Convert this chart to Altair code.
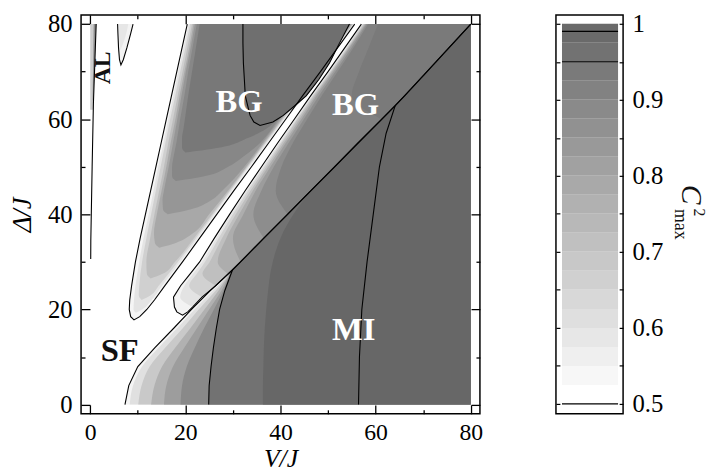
import altair as alt
import pandas as pd

# ---------------- values ----------------
DOMAIN = [-1.93, 81.93]
MAJOR_TICKS = [0, 20, 40, 60, 80]
ALL_TICKS = [0, 10, 20, 30, 40, 50, 60, 70, 80]

# --- Mott-insulator side: left edges of nested contour bands (each band reaches V/J = 80)
MI_Y  = [0, 4, 8, 12, 16, 20, 24, 28.3, 35, 45, 55, 62.8, 70, 80]
MI_L  = [7.3, 8.1, 10.0, 13.6, 17.5, 21.3, 25.3, 29.9, 36.5, 46.4, 56.3, 64.1, 70.8, 80]
MI_C1 = [8.3, 9.0, 10.9, 14.4, 18.2, 21.9, 25.8, 29.9, 36.5, 46.4, 56.3, 64.1, 70.8, 80]
MI_C2 = [10.1, 10.8, 12.5, 15.8, 19.4, 22.8, 26.4, 29.9, 36.5, 46.4, 56.3, 64.1, 70.8, 80]
MI_C3 = [12.8, 13.5, 15.1, 17.9, 21.0, 24.0, 27.0, 29.9, 36.5, 46.4, 56.3, 64.1, 70.8, 80]
MI_C4 = [15.5, 16.0, 17.4, 19.8, 22.4, 25.0, 27.6, 29.9, 36.5, 46.4, 56.3, 64.1, 70.8, 80]
MI_C5 = [19.0, 19.3, 20.3, 22.0, 23.9, 26.0, 28.0, 29.9, 36.5, 46.4, 56.3, 64.1, 70.8, 80]
MI_A  = [24.9, 25.0, 25.4, 25.9, 26.5, 27.2, 28.3, 29.9, 36.5, 46.4, 56.3, 64.1, 70.8, 80]
MI_C7 = [36.3, 36.3, 36.4, 36.5, 36.7, 37.0, 37.4, 38.0, 40.0, 46.4, 56.3, 64.1, 70.8, 80]
MI_RIGHT = 80
MI_FILLS = ["#f4f4f4", "#e0e0e0", "#c9c9c9", "#b1b1b1", "#9d9d9d", "#898989", "#727272", "#676767"]

# --- second Bose-glass lobe (between the white stripe and the MI boundary)
BG2_Y = [18.8, 19.5, 20.5, 22.6, 25, 27.5, 30, 35, 40, 45, 50, 55, 60, 65, 70, 75, 80]
BG2_L = [19.4, 18.2, 17.7, 17.5, 19.0, 21.0, 23.0, 26.1, 29.3, 32.6, 36.0, 39.4, 42.9, 46.4, 50.0, 53.5, 57.0]
BG2_R = [19.4, 20.5, 21.5, 23.5, 26.4, 29.0, 31.6, 36.5, 41.5, 46.4, 51.4, 56.3, 61.3, 66.2, 70.8, 75.4, 80.0]
BG2_BANDS = [
    ("#e3e3e3", [20.5, 22.6, 25, 27.5, 30, 35, 40, 45, 50, 55, 60, 65, 70, 75, 80],
     [21.5, 18.9, 19.8, 21.6, 23.5, 26.5, 29.6, 32.9, 36.3, 39.7, 43.1, 46.6, 50.2, 53.7, 57.15]),
    ("#d1d1d1", [22.6, 25, 27.5, 30, 35, 40, 45, 50, 55, 60, 65, 70, 75, 80],
     [23.5, 20.8, 22.4, 24.1, 27.0, 30.0, 33.2, 36.6, 40.0, 43.4, 46.8, 50.4, 53.9, 57.3]),
    ("#bfbfbf", [25, 27.5, 30, 35, 40, 45, 50, 55, 60, 65, 70, 75, 80],
     [26.4, 23.6, 25.1, 27.7, 30.6, 33.7, 37.0, 40.3, 43.6, 47.0, 50.6, 54.1, 57.5]),
    ("#adadad", [27.5, 30, 35, 40, 45, 50, 55, 60, 65, 70, 75, 80],
     [29.0, 26.8, 28.6, 31.3, 34.2, 37.4, 40.7, 44.0, 47.3, 50.8, 54.3, 57.7]),
    ("#9c9c9c", [30, 35, 40, 45, 50, 55, 60, 65, 70, 75, 80],
     [31.6, 30.0, 32.2, 34.8, 37.9, 41.1, 44.4, 47.6, 51.1, 54.5, 57.9]),
    ("#8d8d8d", [35, 40, 45, 50, 55, 60, 65, 70, 75, 80],
     [36.5, 34.3, 36.0, 38.6, 41.7, 44.9, 48.1, 51.5, 54.9, 58.1]),
    ("#818181", [40, 45, 50, 55, 60, 65, 70, 75, 80],
     [41.5, 39.0, 40.2, 42.6, 45.6, 48.7, 52.0, 55.3, 58.4]),
    ("#7a7a7a", [60, 65, 70, 75, 80],
     [61.3, 55.0, 56.5, 58.5, 60.5]),
]
BG2_OUTER_FILL = "#f3f3f3"

# --- first Bose-glass lobe
BG1_Y = [17.8, 18.5, 20, 22, 25, 30, 35, 40, 45, 50, 55, 60, 65, 70, 75, 80]
BG1_L = [9.2, 8.5, 8.2, 8.3, 8.7, 9.5, 10.5, 11.6, 12.7, 13.8, 14.9, 16.0, 17.1, 18.2, 19.3, 20.4]
BG1_R = [9.2, 10.4, 11.9, 13.5, 15.7, 19.4, 23.0, 26.6, 30.2, 33.9, 37.5, 41.1, 44.7, 48.4, 52.0, 55.6]
BG1_OUTER_FILL = "#f5f5f5"
BG1_BANDS = [
    ("#e4e4e4", [19.3, 20, 22, 25, 30, 35, 40, 45, 50, 55, 60, 65, 70, 75, 80],
     [9.6, 9.1, 9.2, 9.5, 10.3, 11.2, 12.3, 13.3, 14.3, 15.4, 16.4, 17.5, 18.5, 19.6, 20.7],
     [9.6, 10.9, 12.9, 15.1, 18.9, 22.6, 26.2, 29.8, 33.5, 37.2, 40.8, 44.4, 48.1, 51.8, 55.4]),
    ("#d0d0d0", [22, 23, 25, 30, 35, 40, 45, 50, 55, 60, 65, 70, 75, 80],
     [10.8, 10.2, 10.3, 10.9, 11.8, 12.8, 13.8, 14.8, 15.8, 16.8, 17.9, 18.9, 20.0, 21.0],
     [10.8, 12.7, 14.4, 18.4, 22.2, 25.9, 29.5, 33.2, 36.9, 40.6, 44.3, 47.9, 51.6, 55.3]),
    ("#bdbdbd", [26.5, 27.5, 30, 35, 40, 45, 50, 55, 60, 65, 70, 75, 80],
     [12.7, 11.9, 11.8, 12.6, 13.5, 14.5, 15.5, 16.4, 17.4, 18.4, 19.4, 20.4, 21.4],
     [12.7, 15.2, 17.8, 21.8, 25.6, 29.3, 33.0, 36.7, 40.4, 44.1, 47.8, 51.5, 55.2]),
    ("#a8a8a8", [33, 34, 36, 40, 45, 50, 55, 60, 65, 70, 75, 80],
     [14.5, 13.6, 13.4, 14.0, 15.0, 16.0, 16.9, 17.9, 18.8, 19.8, 20.8, 21.7],
     [14.5, 18.0, 21.6, 25.0, 29.0, 32.8, 36.5, 40.2, 43.9, 47.6, 51.3, 55.0]),
    ("#969696", [40, 41, 43, 45, 50, 55, 60, 65, 70, 75, 80],
     [16.3, 15.3, 15.2, 15.5, 16.5, 17.4, 18.3, 19.2, 20.1, 21.1, 22.0],
     [16.3, 21.0, 25.5, 27.8, 32.4, 36.2, 39.9, 43.6, 47.4, 51.1, 54.9]),
    ("#878787", [47, 48, 50, 52, 55, 60, 65, 70, 75, 80],
     [18.0, 17.2, 17.2, 17.5, 18.1, 18.9, 19.8, 20.6, 21.5, 22.4],
     [18.0, 24.0, 29.0, 32.0, 35.7, 39.6, 43.3, 47.1, 50.9, 54.7]),
    ("#787878", [53, 54, 56, 58, 60, 65, 70, 75, 80],
     [20.0, 19.3, 19.3, 19.6, 19.9, 20.6, 21.4, 22.2, 23.0],
     [20.0, 27.0, 33.0, 37.0, 39.2, 43.0, 46.8, 50.6, 54.5]),
]
# inner closed contour of the first lobe
C_Y = [58.7, 59.4, 60.8, 64.9, 68.4, 71.8, 76, 80]
C_L = [35.7, 34.4, 33.6, 32.6, 32.4, 32.2, 32.1, 32.1]
C_R = [35.7, 38.4, 40.6, 45.4, 48.1, 50.3, 52.4, 54.5]
C_FILL = "#6f6f6f"

# --- thin Anderson-localised sliver at V ~ 0 and the small light lobe at the top
AL_Y = [30.6, 34.4, 50, 63.5, 70, 75, 80]
AL_X = [0.1, 0.12, 0.4, 0.67, 0.9, 1.07, 1.25]
AL_BAND = ("#cdcdcd", [62, 65, 70, 75, 80], [0.0, 0.0, 0.0, 0.0, 0.0], [0.63, 0.72, 0.9, 1.07, 1.25])
AL_CORE = ("#8e8e8e", [64, 70, 75, 80], [0.5, 0.58, 0.66, 0.72], [0.64, 0.88, 1.05, 1.22])
LOBE_Y = [71.4, 72.5, 75, 78, 80]
LOBE_L = [6.45, 6.15, 5.95, 5.82, 5.75]
LOBE_R = [6.45, 6.95, 7.7, 8.5, 9.0]
LOBE_FILL = "#f3f3f3"
LOBE_CORE = ("#e6e6e6", [74.5, 77, 80], [6.35, 6.1, 6.0], [6.35, 7.3, 8.0])

# --- further contour lines in the MI region
B_Y = [0, 10, 20, 30, 40, 50, 57, 62.8]
B_X = [56.4, 56.6, 57.1, 58.2, 59.5, 60.8, 62.2, 64.1]

# --- region labels
LABELS = ["AL", "BG", "BG", "SF", "MI"]
LABEL_X = [2.8, 31.3, 55.8, 6.2, 55.4]
LABEL_Y = [70.8, 63.5, 63.0, 11.2, 15.7]
LABEL_COLOR = ["#111111", "white", "white", "#111111", "white"]
LABEL_ANGLE = [270, 0, 0, 0, 0]
LABEL_SIZE = [24, 33, 33, 33, 33]

# --- colour bar
CB_LOW = [0.5, 0.525, 0.55, 0.575, 0.6, 0.625, 0.65, 0.675, 0.7, 0.725,
          0.75, 0.775, 0.8, 0.825, 0.85, 0.875, 0.9, 0.925, 0.95, 0.975]
CB_HIGH = [0.525, 0.55, 0.575, 0.6, 0.625, 0.65, 0.675, 0.7, 0.725, 0.75,
           0.775, 0.8, 0.825, 0.85, 0.875, 0.9, 0.925, 0.95, 0.975, 1.0]
CB_FILL = ["#ffffff", "#f7f7f7", "#efefef", "#e7e7e7", "#dfdfdf", "#d8d8d8", "#d0d0d0",
           "#c8c8c8", "#c0c0c0", "#b8b8b8", "#b1b1b1", "#a9a9a9", "#a1a1a1", "#999999",
           "#919191", "#8a8a8a", "#828282", "#7a7a7a", "#727272", "#6a6a6a"]
CB_LINES = [0.5, 0.95, 0.99]
CB_LABEL_TICKS = [0.5, 0.6, 0.7, 0.8, 0.9, 1.0]
CB_ALL_TICKS = [0.5, 0.55, 0.6, 0.65, 0.7, 0.75, 0.8, 0.85, 0.9, 0.95, 1.0]
CB_DOMAIN = [0.487, 1.0117]
CB_BAR_LEFT = 0.09
CB_BAR_RIGHT = 0.925

# ---------------- chart construction ----------------
W = 404
H = 404
CBW = 68
FONT = "Liberation Serif"
XS = alt.Scale(domain=DOMAIN, nice=False, zero=False)
YS = alt.Scale(domain=DOMAIN, nice=False, zero=False)


def band(ys, xl, xr, fill):
    df = pd.DataFrame({"y": ys, "x": xl, "x2": xr})
    return alt.Chart(df).mark_area(orient="horizontal", color=fill, interpolate="monotone").encode(
        y=alt.Y("y:Q", scale=YS, axis=None),
        x=alt.X("x:Q", scale=XS, axis=None),
        x2="x2:Q",
    )


layers = []
for edge, fill in zip([MI_L, MI_C1, MI_C2, MI_C3, MI_C4, MI_C5, MI_A, MI_C7], MI_FILLS):
    layers.append(band(MI_Y, edge, [MI_RIGHT] * len(MI_Y), fill))

layers.append(band(BG2_Y, BG2_L, BG2_R, BG2_OUTER_FILL))
for fill, ys, xl in BG2_BANDS:
    xr = [BG2_R[BG2_Y.index(y)] for y in ys]
    layers.append(band(ys, xl, xr, fill))

layers.append(band(BG1_Y, BG1_L, BG1_R, BG1_OUTER_FILL))
for fill, ys, xl, xr in BG1_BANDS:
    layers.append(band(ys, xl, xr, fill))
layers.append(band(C_Y, C_L, C_R, C_FILL))

layers.append(band(AL_BAND[1], AL_BAND[2], AL_BAND[3], AL_BAND[0]))
layers.append(band(AL_CORE[1], AL_CORE[2], AL_CORE[3], AL_CORE[0]))
layers.append(band(LOBE_Y, LOBE_L, LOBE_R, LOBE_FILL))
layers.append(band(LOBE_CORE[1], LOBE_CORE[2], LOBE_CORE[3], LOBE_CORE[0]))

# contour lines
rows = []


def add_line(name, xs, ys):
    for i, (x, y) in enumerate(zip(xs, ys)):
        rows.append({"id": name, "seq": i, "x": x, "y": y})


add_line("L", MI_L, MI_Y)
add_line("A", MI_A[:8], MI_Y[:8])
add_line("B", B_X, B_Y)
add_line("BG1", BG1_L[::-1] + BG1_R[1:], BG1_Y[::-1] + BG1_Y[1:])
add_line("BG2", BG2_L[::-1] + BG2_R[1:], BG2_Y[::-1] + BG2_Y[1:])
add_line("C", C_L[::-1] + C_R[1:], C_Y[::-1] + C_Y[1:])
add_line("AL", AL_X, AL_Y)
add_line("lobe", LOBE_L[::-1] + LOBE_R[1:], LOBE_Y[::-1] + LOBE_Y[1:])
lines_df = pd.DataFrame(rows)
layers.append(
    alt.Chart(lines_df).mark_line(color="black", strokeWidth=1.1, interpolate="linear").encode(
        x=alt.X("x:Q", scale=XS, axis=None),
        y=alt.Y("y:Q", scale=YS, axis=None),
        detail="id:N",
        order="seq:Q",
    )
)

label_df = pd.DataFrame({"label": LABELS, "x": LABEL_X, "y": LABEL_Y, "c": LABEL_COLOR,
                         "a": LABEL_ANGLE, "s": LABEL_SIZE})
layers.append(
    alt.Chart(label_df).mark_text(font=FONT, fontWeight="bold", align="center", baseline="middle").encode(
        x=alt.X("x:Q", scale=XS, axis=None),
        y=alt.Y("y:Q", scale=YS, axis=None),
        text="label:N",
        color=alt.Color("c:N", scale=None),
        angle=alt.Angle("a:Q", scale=None),
        size=alt.Size("s:Q", scale=None),
    )
)

anchor = pd.DataFrame({"x": [40.0], "y": [40.0], "v": [0.75], "u": [0.5]})
tick_size = {"condition": {"test": "datum.value % 20 === 0", "value": 9}, "value": 4}

# labelled axes (no ticks)
layers.append(
    alt.Chart(anchor).mark_point(opacity=0).encode(
        x=alt.X("x:Q", scale=XS, title="V/J",
                axis=alt.Axis(orient="bottom", values=MAJOR_TICKS, ticks=False, domain=False, grid=False,
                              labelPadding=7, titlePadding=1, labelFlush=False, format="d",
                              labelFontSize=24, titleFontSize=26, titleFontStyle="italic")),
        y=alt.Y("y:Q", scale=YS, title="Δ/J",
                axis=alt.Axis(orient="left", values=MAJOR_TICKS, ticks=False, domain=False, grid=False,
                              labelPadding=9, titlePadding=11, labelFlush=False, format="d",
                              titleFontStyle="italic")),
    )
)
# inward ticks on bottom/left
layers.append(
    alt.Chart(anchor).mark_point(opacity=0).encode(
        x=alt.X("x:Q", scale=XS, title=None,
                axis=alt.Axis(orient="top", offset=-H, values=ALL_TICKS, labels=False, domain=False,
                              grid=False, tickSize=tick_size, tickWidth=1.3, tickColor="black")),
        y=alt.Y("y:Q", scale=YS, title=None,
                axis=alt.Axis(orient="right", offset=-W, values=ALL_TICKS, labels=False, domain=False,
                              grid=False, tickSize=tick_size, tickWidth=1.3, tickColor="black")),
    )
)
# inward ticks on top/right
layers.append(
    alt.Chart(anchor).mark_point(opacity=0).encode(
        x=alt.X("x:Q", scale=XS, title=None,
                axis=alt.Axis(orient="bottom", offset=-H, values=ALL_TICKS, labels=False, domain=False,
                              grid=False, tickSize=tick_size, tickWidth=1.3, tickColor="black")),
        y=alt.Y("y:Q", scale=YS, title=None,
                axis=alt.Axis(orient="left", offset=-W, values=ALL_TICKS, labels=False, domain=False,
                              grid=False, tickSize=tick_size, tickWidth=1.3, tickColor="black")),
    )
)

main = alt.layer(*layers).resolve_axis(x="independent", y="independent").properties(width=W, height=H)

# ---------------- colour bar ----------------
CBS = alt.Scale(domain=CB_DOMAIN, nice=False, zero=False)
CBX = alt.Scale(domain=[0, 1], nice=False, zero=False)
cb_df = pd.DataFrame({"lo": CB_LOW, "hi": CB_HIGH, "fill": CB_FILL,
                      "l": [CB_BAR_LEFT] * len(CB_LOW), "r": [CB_BAR_RIGHT] * len(CB_LOW)})
cb_bands = alt.Chart(cb_df).mark_rect().encode(
    y=alt.Y("lo:Q", scale=CBS, axis=None), y2="hi:Q",
    x=alt.X("l:Q", scale=CBX, axis=None), x2="r:Q",
    color=alt.Color("fill:N", scale=None),
)
cb_lines_df = pd.DataFrame({"v": CB_LINES, "l": [CB_BAR_LEFT] * 3, "r": [CB_BAR_RIGHT] * 3})
cb_lines = alt.Chart(cb_lines_df).mark_rule(color="black", strokeWidth=1.1).encode(
    y=alt.Y("v:Q", scale=CBS, axis=None),
    x=alt.X("l:Q", scale=CBX, axis=None), x2="r:Q",
)
cb_axis_labels = alt.Chart(anchor).mark_point(opacity=0).encode(
    x=alt.X("u:Q", scale=CBX, axis=None),
    y=alt.Y("v:Q", scale=CBS, title=None,
            axis=alt.Axis(orient="right", values=CB_LABEL_TICKS, ticks=False, domain=False, grid=False,
                          labelPadding=9, labelFlush=False, format="~g"))
)
cb_ticks_l = alt.Chart(anchor).mark_point(opacity=0).encode(
    x=alt.X("u:Q", scale=CBX, axis=None),
    y=alt.Y("v:Q", scale=CBS, title=None,
            axis=alt.Axis(orient="right", offset=-CBW, values=CB_ALL_TICKS, labels=False, domain=False,
                          grid=False, tickSize=4, tickWidth=1.2, tickColor="black"))
)
cb_ticks_r = alt.Chart(anchor).mark_point(opacity=0).encode(
    x=alt.X("u:Q", scale=CBX, axis=None),
    y=alt.Y("v:Q", scale=CBS, title=None,
            axis=alt.Axis(orient="left", offset=-CBW, values=CB_ALL_TICKS, labels=False, domain=False,
                          grid=False, tickSize=4, tickWidth=1.2, tickColor="black"))
)
title_c = alt.Chart(anchor).mark_text(font=FONT, fontStyle="italic", fontSize=30, angle=90,
                                      align="center", baseline="middle", color="#111111").encode(
    x=alt.value(137), y=alt.value(182), text=alt.value("C"))
title_2 = alt.Chart(anchor).mark_text(font=FONT, fontSize=16, angle=90,
                                      align="center", baseline="middle", color="#111111").encode(
    x=alt.value(145), y=alt.value(200), text=alt.value("2"))
title_max = alt.Chart(anchor).mark_text(font=FONT, fontSize=18, angle=90,
                                        align="center", baseline="middle", color="#111111").encode(
    x=alt.value(126), y=alt.value(212), text=alt.value("max"))

colorbar = alt.layer(cb_bands, cb_lines, cb_axis_labels, cb_ticks_l, cb_ticks_r,
                     title_c, title_2, title_max).resolve_axis(y="independent").properties(width=CBW, height=H)

chart = alt.hconcat(main, colorbar, spacing=71).properties(
    padding={"left": 0, "top": 0, "right": 0, "bottom": 0}
).configure_view(stroke="black", strokeWidth=1.5).configure_axis(
    labelFont=FONT, titleFont=FONT, labelFontSize=25, titleFontSize=27,
    labelColor="black", titleColor="black", titleFontWeight="normal", grid=False
)

chart.save("out.html", embed_options={"renderer": "svg", "actions": False})
